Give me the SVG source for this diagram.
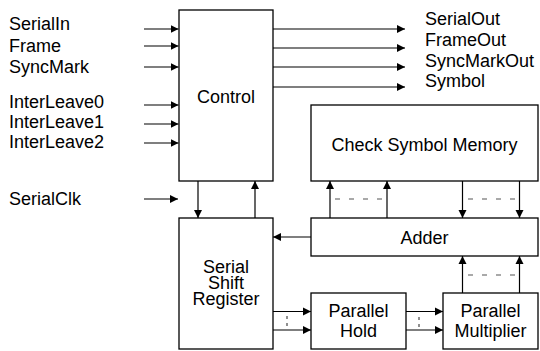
<svg xmlns="http://www.w3.org/2000/svg" width="540" height="351" viewBox="0 0 540 351">
<defs>
<marker id="ah" viewBox="0 0 10 10" refX="10" refY="5" markerWidth="8" markerHeight="9" markerUnits="userSpaceOnUse" orient="auto">
<path d="M0,0 L10,5 L0,10 z" fill="#000"/>
</marker>
<style>
text{font-family:"Liberation Sans",Arial,sans-serif;font-size:18px;fill:#000}
.box{fill:#fff;stroke:#000;stroke-width:1.3}
.c{text-anchor:middle}
.ln{stroke:#000;stroke-width:1.2;fill:none}
.ar{stroke:#000;stroke-width:1.2;fill:none;marker-end:url(#ah)}
.ds{stroke:#555;stroke-width:1.2;stroke-dasharray:5 9;fill:none}
.dt{stroke:#555;stroke-width:1.3;stroke-dasharray:3 4;fill:none}
</style>
</defs>
<g id="labels">
<text x="9" y="30">SerialIn</text>
<text x="9" y="51.5">Frame</text>
<text x="9" y="73">SyncMark</text>
<text x="9" y="108">InterLeave0</text>
<text x="9" y="128">InterLeave1</text>
<text x="9" y="148">InterLeave2</text>
<text x="9" y="205">SerialClk</text>
<text x="425" y="25">SerialOut</text>
<text x="425" y="46">FrameOut</text>
<text x="425" y="66.5">SyncMarkOut</text>
<text x="425" y="87">Symbol</text>
</g>
<g id="control">
<rect class="box" x="179" y="10" width="94" height="171"/>
<text class="c" x="226" y="103">Control</text>
</g>
<g id="csm">
<rect class="box" x="311" y="105" width="227" height="76"/>
<text class="c" x="424.5" y="151">Check Symbol Memory</text>
</g>
<g id="ssr">
<rect class="box" x="179" y="218" width="94" height="131"/>
<text class="c" x="226" y="273">Serial</text>
<text class="c" x="226" y="289">Shift</text>
<text class="c" x="226" y="305">Register</text>
</g>
<g id="adder">
<rect class="box" x="311" y="218" width="227" height="38"/>
<text class="c" x="424.5" y="244">Adder</text>
</g>
<g id="hold">
<rect class="box" x="311" y="293" width="95" height="56"/>
<text class="c" x="358.5" y="317">Parallel</text>
<text class="c" x="358.5" y="337">Hold</text>
</g>
<g id="mult">
<rect class="box" x="443" y="293" width="95" height="56"/>
<text class="c" x="490.5" y="317">Parallel</text>
<text class="c" x="490.5" y="337">Multiplier</text>
</g>
<g id="connectors">
<line class="ar" x1="144" y1="29" x2="178.5" y2="29"/>
<line class="ar" x1="144" y1="46" x2="178.5" y2="46"/>
<line class="ar" x1="144" y1="67" x2="178.5" y2="67"/>
<line class="ar" x1="144" y1="105" x2="178.5" y2="105"/>
<line class="ar" x1="144" y1="124" x2="178.5" y2="124"/>
<line class="ar" x1="144" y1="143" x2="178.5" y2="143"/>
<line class="ar" x1="144" y1="199" x2="178" y2="199"/>
<line class="ar" x1="273" y1="29" x2="405" y2="29"/>
<line class="ar" x1="273" y1="48" x2="405" y2="48"/>
<line class="ar" x1="273" y1="67" x2="405" y2="67"/>
<line class="ar" x1="273" y1="87" x2="405" y2="87"/>
<line class="ar" x1="198" y1="181" x2="198" y2="218"/>
<line class="ar" x1="255" y1="218" x2="255" y2="181"/>
<line class="ar" x1="311" y1="237" x2="273" y2="237"/>
<line class="ar" x1="330" y1="218" x2="330" y2="181"/>
<line class="ar" x1="387" y1="218" x2="387" y2="181"/>
<line class="ds" x1="335" y1="199" x2="383" y2="199"/>
<line class="ar" x1="462.5" y1="181" x2="462.5" y2="218"/>
<line class="ar" x1="519.5" y1="181" x2="519.5" y2="218"/>
<line class="ds" x1="468" y1="199" x2="516" y2="199"/>
<line class="ar" x1="462.5" y1="293" x2="462.5" y2="256"/>
<line class="ar" x1="519.5" y1="293" x2="519.5" y2="256"/>
<line class="ds" x1="468" y1="275" x2="516" y2="275"/>
<line class="ar" x1="273" y1="311.5" x2="311" y2="311.5"/>
<line class="ar" x1="273" y1="330" x2="311" y2="330"/>
<line class="dt" x1="287" y1="316" x2="287" y2="328"/>
<line class="ar" x1="406" y1="311.5" x2="443" y2="311.5"/>
<line class="ar" x1="406" y1="330" x2="443" y2="330"/>
<line class="dt" x1="419" y1="317" x2="419" y2="329"/>
</g>
</svg>
